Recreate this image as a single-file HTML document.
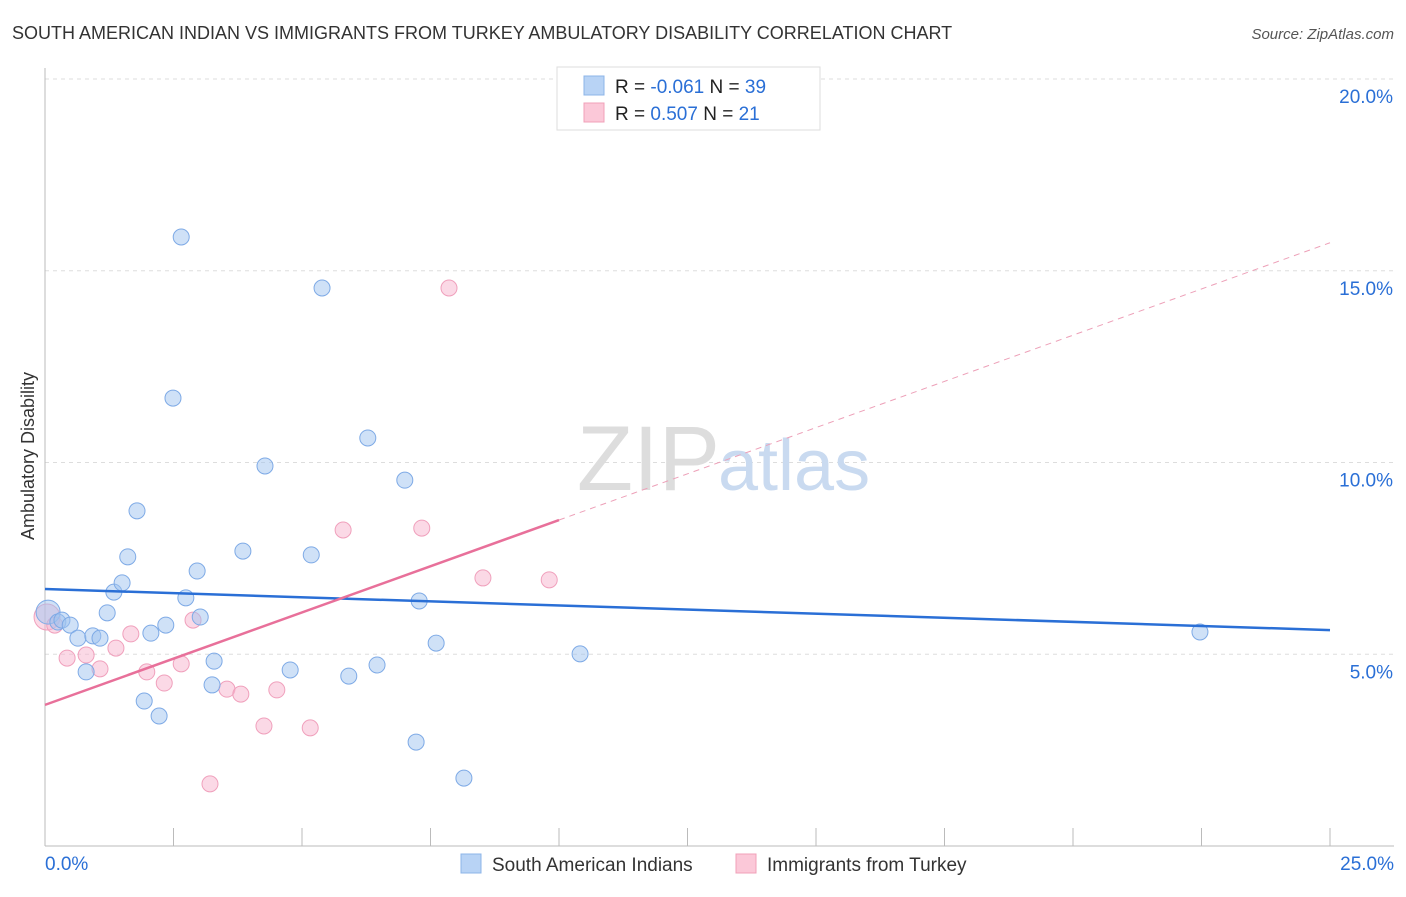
<!DOCTYPE html>
<html><head><meta charset="utf-8">
<style>
body{margin:0;background:#fff;font-family:"Liberation Sans",sans-serif;}
svg text{font-family:"Liberation Sans",sans-serif;}
</style></head>
<body>
<svg id="chart" width="1406" height="892">
<text x="12" y="39" font-size="18" fill="#333">SOUTH AMERICAN INDIAN VS IMMIGRANTS FROM TURKEY AMBULATORY DISABILITY CORRELATION CHART</text>
<text x="1394" y="39" font-size="15" fill="#555" font-style="italic" text-anchor="end">Source: ZipAtlas.com</text>
<g id="grid"></g>
<g id="axes"></g>
<text x="720" y="490" font-size="92" fill="#ddd" font-family="Liberation Serif" text-anchor="end">ZIP</text>
<text x="718" y="490" font-size="72" fill="#c9daf0">atlas</text>
<g id="points"></g>
<g id="lines"></g>
<text transform="translate(34,456) rotate(-90)" font-size="18" fill="#333" text-anchor="middle">Ambulatory Disability</text>
<g>
<rect x="557" y="67" width="263" height="63" fill="#fff" stroke="#ddd"/>
<rect x="584" y="76" width="20" height="19" fill="#b8d3f5" stroke="#8cb4e8"/>
<rect x="584" y="103" width="20" height="19" fill="#fbc8d8" stroke="#f0a0b8"/>
<text x="615" y="93" font-size="19" fill="#222">R = <tspan fill="#2a6fd6">-0.061</tspan>   N = <tspan fill="#2a6fd6">39</tspan></text>
<text x="615" y="120" font-size="19" fill="#222">R =  <tspan fill="#2a6fd6">0.507</tspan>   N =  <tspan fill="#2a6fd6">21</tspan></text>
</g>
<g>
<rect x="461" y="854" width="20" height="19" fill="#b8d3f5" stroke="#8cb4e8"/>
<text x="492" y="871" font-size="19" fill="#333">South American Indians</text>
<rect x="736" y="854" width="20" height="19" fill="#fbc8d8" stroke="#f0a0b8"/>
<text x="767" y="871" font-size="19" fill="#333">Immigrants from Turkey</text>
</g>
</svg>
<script>
const blueX=[0.06,0.25,0.33,0.49,0.64,0.80,0.93,1.07,1.21,1.34,1.50,1.61,1.79,1.93,2.06,2.22,2.35,2.49,2.65,2.74,2.96,3.02,3.25,3.29,3.85,4.28,4.77,5.18,5.39,5.91,6.28,6.46,7.00,7.22,7.28,7.61,8.15,10.41,22.47];
const blueY=[6.10,5.84,5.89,5.76,5.42,4.54,5.48,5.42,6.08,6.62,6.86,7.54,8.74,3.78,5.55,3.39,5.76,11.68,15.88,6.47,7.17,5.97,4.20,4.82,7.69,9.91,4.59,7.59,14.55,4.43,10.64,4.72,9.54,2.71,6.39,5.29,1.77,5.01,5.58];
const pinkX=[0.04,0.19,0.43,0.80,1.07,1.38,1.67,1.98,2.32,2.65,2.88,3.21,3.54,3.81,4.26,4.51,5.16,5.80,7.33,7.86,8.52,9.81];
const pinkY=[5.97,5.76,4.90,4.98,4.62,5.16,5.53,4.54,4.25,4.75,5.89,1.62,4.09,3.96,3.13,4.07,3.08,8.24,8.29,14.55,6.99,6.94];
const blueTrend=[6.70,5.63];
const pinkTrend=[3.68,15.73];
const yTicks=[5,10,15,20];
const yTickLabels=["5.0%","10.0%","15.0%","20.0%"];
const xTicks=[0,2.5,5,7.5,10,12.5,15,17.5,20,22.5,25];
const xs=v=>45+v*(1285/25);
const ys=v=>846-v*38.35;
const NS="http://www.w3.org/2000/svg";
function mk(tag,parent,attrs){const e=document.createElementNS(NS,tag);for(const k in attrs)e.setAttribute(k,attrs[k]);parent.appendChild(e);return e;}
const grid=document.getElementById('grid'),axes=document.getElementById('axes'),pts=document.getElementById('points'),lines=document.getElementById('lines');
yTicks.forEach((t,i)=>{
 const l=mk('line',grid,{x1:45,x2:1394,y1:ys(t),y2:ys(t),stroke:'#ddd','stroke-dasharray':'4,4'});
 
 
 const tx=mk('text',axes,{x:1393,y:ys(t)+24,'font-size':19,fill:'#2a6fd6','text-anchor':'end'});
 tx.textContent=yTickLabels[i];
 
 
});
const ax=mk('line',axes,{x1:45,x2:1394,y1:846,y2:846,stroke:'#bbb'});


const ay=mk('line',axes,{x1:45,x2:45,y1:68,y2:846,stroke:'#bbb'});


xTicks.forEach(t=>{
 const l=mk('line',axes,{x1:xs(t),x2:xs(t),y1:828,y2:846,stroke:'#bbb'});
 
 
});
const xl0=mk('text',axes,{x:45,y:870,'font-size':19,fill:'#2a6fd6'});xl0.textContent='0.0%';


const xl1=mk('text',axes,{x:1394,y:870,'font-size':19,fill:'#2a6fd6','text-anchor':'end'});xl1.textContent='25.0%';


pinkX.forEach((x,i)=>{
 const c=mk('circle',pts,{cx:xs(x),cy:ys(pinkY[i]),r:i===0?13:8,fill:'rgba(248,180,205,0.5)',stroke:'#f0a0bc','stroke-width':1});
 
 
});
blueX.forEach((x,i)=>{
 const c=mk('circle',pts,{cx:xs(x),cy:ys(blueY[i]),r:i===0?12:8,fill:'rgba(160,195,240,0.5)',stroke:'#7eaae6','stroke-width':1});
 
 
});
const bl=mk('line',lines,{x1:xs(0),y1:ys(blueTrend[0]),x2:xs(25),y2:ys(blueTrend[1]),stroke:'#2a6fd6','stroke-width':2.5});


const pMid=pinkTrend[0]+(pinkTrend[1]-pinkTrend[0])*10/25;
const pl=mk('line',lines,{x1:xs(0),y1:ys(pinkTrend[0]),x2:xs(10),y2:ys(pMid),stroke:'#e8709a','stroke-width':2.5});


const pd=mk('line',lines,{x1:xs(10),y1:ys(pMid),x2:xs(25),y2:ys(pinkTrend[1]),stroke:'#eda0b8','stroke-width':1,'stroke-dasharray':'6,5'});


</script>
</body></html>
